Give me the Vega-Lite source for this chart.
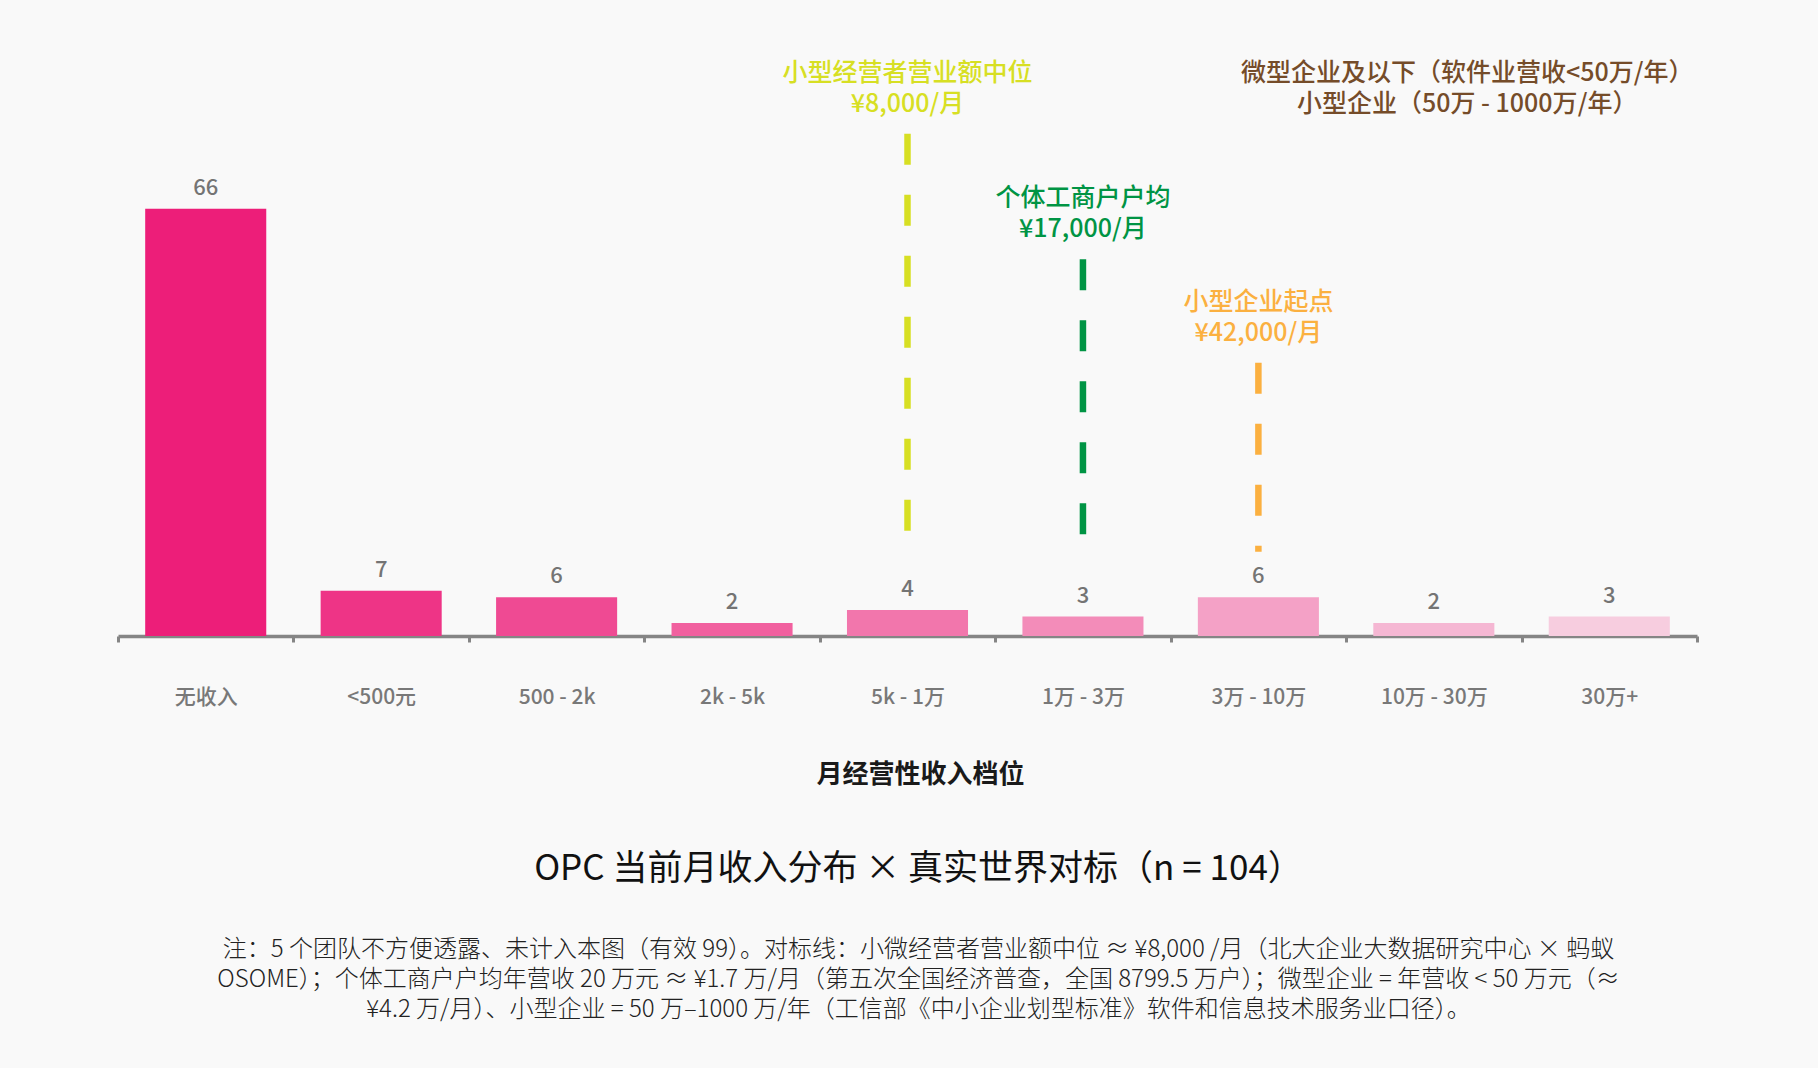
{
  "$schema": "https://vega.github.io/schema/vega-lite/v6.json",
  "width": 1579,
  "height": 615,
  "autosize": "none",
  "padding": {"left": 118, "top": 21, "right": 121, "bottom": 432},
  "background": "#F9F9F9",
  "title": {
    "text": "OPC 当前月收入分布 × 真实世界对标（n = 104）",
    "subtitle": [
      "注：5 个团队不方便透露、未计入本图（有效 99）。对标线：小微经营者营业额中位 ≈ ¥8,000 /月（北大企业大数据研究中心 × 蚂蚁",
      "OSOME）；个体工商户户均年营收 20 万元 ≈ ¥1.7 万/月（第五次全国经济普查，全国 8799.5 万户）；微型企业 = 年营收 < 50 万元（≈",
      "¥4.2 万/月）、小型企业 =  50 万–1000 万/年（工信部《中小企业划型标准》软件和信息技术服务业口径）。"
    ],
    "orient": "bottom",
    "anchor": "middle",
    "offset": 65,
    "dx": 11,
    "font": "Noto Sans CJK SC",
    "fontSize": 35,
    "fontWeight": "normal",
    "color": "#111111",
    "subtitleFont": "Noto Sans CJK SC",
    "subtitleFontSize": 24,
    "subtitleFontWeight": 300,
    "subtitleColor": "#222222",
    "subtitleLineHeight": 30,
    "subtitlePadding": 51
  },
  "datasets": {
    "bins": [
      {"bin": "无收入", "count": 66},
      {"bin": "<500元", "count": 7},
      {"bin": "500 - 2k", "count": 6},
      {"bin": "2k - 5k", "count": 2},
      {"bin": "5k - 1万", "count": 4},
      {"bin": "1万 - 3万", "count": 3},
      {"bin": "3万 - 10万", "count": 6},
      {"bin": "10万 - 30万", "count": 2},
      {"bin": "30万+", "count": 3}
    ],
    "benchmarks": [
      {"bin": "5k - 1万", "name": "小型经营者营业额中位", "label": "小型经营者营业额中位\n¥8,000/月", "top": 77.6, "bottom": 15.9},
      {"bin": "1万 - 3万", "name": "个体工商户户均", "label": "个体工商户户均\n¥17,000/月", "top": 58.2, "bottom": 15.6},
      {"bin": "3万 - 10万", "name": "小型企业起点", "label": "小型企业起点\n¥42,000/月", "top": 42.2, "bottom": 13.0}
    ],
    "tiers": [
      {"bin": "10万 - 30万", "label": "微型企业及以下（软件业营收<50万/年）\n小型企业（50万 - 1000万/年）", "top": 77.6}
    ]
  },
  "layer": [
    {
      "data": {"name": "bins"},
      "mark": {"type": "bar", "width": {"band": 0.69}},
      "encoding": {
        "x": {
          "field": "bin",
          "type": "nominal",
          "sort": null,
          "scale": {
            "domain": ["无收入", "<500元", "500 - 2k", "2k - 5k", "5k - 1万", "1万 - 3万", "3万 - 10万", "10万 - 30万", "30万+"],
            "paddingInner": 0,
            "paddingOuter": 0
          },
          "axis": {
            "title": "月经营性收入档位",
            "labelAngle": 0,
            "labelFont": "Noto Sans CJK SC",
            "labelFontSize": 21,
            "labelFontWeight": 500,
            "labelColor": "#787878",
            "labelPadding": 44,
            "domainColor": "#858585",
            "domainWidth": 3.5,
            "tickColor": "#858585",
            "tickWidth": 3,
            "tickSize": 6,
            "tickBand": "extent",
            "titleFont": "Noto Sans CJK SC",
            "titleFontSize": 26,
            "titleFontWeight": "bold",
            "titleColor": "#1A1A1A",
            "titlePadding": 54,
            "titleX": 802
          }
        },
        "y": {
          "field": "count",
          "type": "quantitative",
          "scale": {"domain": [0, 95], "nice": false},
          "axis": null
        },
        "fill": {
          "field": "bin",
          "type": "nominal",
          "scale": {
            "domain": ["无收入", "<500元", "500 - 2k", "2k - 5k", "5k - 1万", "1万 - 3万", "3万 - 10万", "10万 - 30万", "30万+"],
            "range": ["#ED1E79", "#EE3486", "#EF4A93", "#F1609F", "#F276AC", "#F38CB9", "#F4A1C6", "#F5B7D3", "#F7CDDF"]
          },
          "legend": null
        }
      }
    },
    {
      "data": {"name": "bins"},
      "mark": {
        "type": "text",
        "baseline": "alphabetic",
        "dy": -14,
        "font": "Noto Sans CJK SC",
        "fontSize": 22,
        "fontWeight": 500,
        "color": "#747474"
      },
      "encoding": {
        "x": {"field": "bin", "type": "nominal", "sort": null},
        "y": {"field": "count", "type": "quantitative"},
        "text": {"field": "count", "type": "quantitative"}
      }
    },
    {
      "data": {"name": "benchmarks"},
      "mark": {"type": "rule", "strokeWidth": 6.5, "strokeDash": [31, 30]},
      "encoding": {
        "x": {"field": "bin", "type": "nominal", "sort": null},
        "y": {"field": "top", "type": "quantitative"},
        "y2": {"field": "bottom"},
        "stroke": {
          "field": "name",
          "type": "nominal",
          "scale": {
            "domain": ["小型经营者营业额中位", "个体工商户户均", "小型企业起点"],
            "range": ["#D7DF23", "#009444", "#FBB040"]
          },
          "legend": null
        }
      }
    },
    {
      "data": {"name": "benchmarks"},
      "mark": {
        "type": "text",
        "baseline": "bottom",
        "lineBreak": "\n",
        "lineHeight": 31,
        "dy": -48,
        "font": "Noto Sans CJK SC",
        "fontSize": 25,
        "fontWeight": 500
      },
      "encoding": {
        "x": {"field": "bin", "type": "nominal", "sort": null},
        "y": {"field": "top", "type": "quantitative"},
        "text": {"field": "label"},
        "color": {
          "field": "name",
          "type": "nominal",
          "scale": {
            "domain": ["小型经营者营业额中位", "个体工商户户均", "小型企业起点"],
            "range": ["#D7DF23", "#009444", "#FBB040"]
          },
          "legend": null
        }
      }
    },
    {
      "data": {"name": "tiers"},
      "mark": {
        "type": "text",
        "baseline": "bottom",
        "lineBreak": "\n",
        "lineHeight": 31,
        "dy": -48,
        "font": "Noto Sans CJK SC",
        "fontSize": 25,
        "fontWeight": 500,
        "color": "#754C29"
      },
      "encoding": {
        "x": {"field": "bin", "type": "nominal", "sort": null, "bandPosition": 0.69},
        "y": {"field": "top", "type": "quantitative"},
        "text": {"field": "label"}
      }
    }
  ],
  "config": {
    "view": {"stroke": null}
  }
}
